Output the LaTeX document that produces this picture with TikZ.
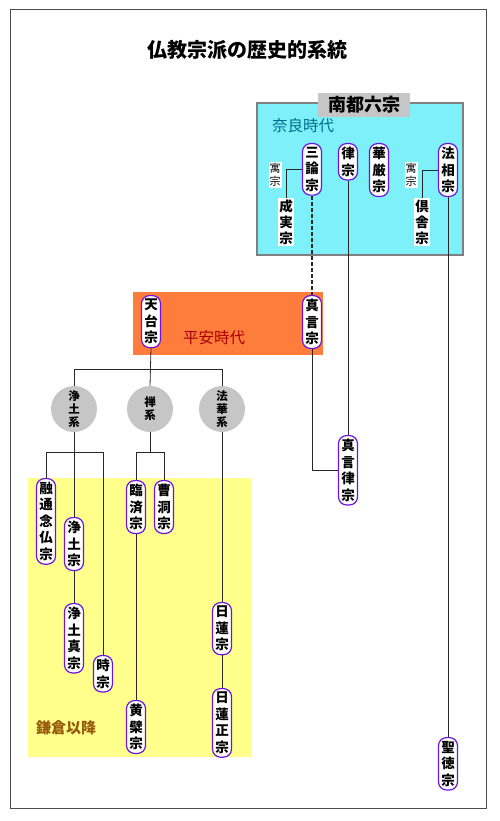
\documentclass[tikz,border=0pt]{standalone}
\usepackage{fontspec}
\setmainfont{Noto Sans CJK JP}
\definecolor{naracyan}{RGB}{125,240,250}
\definecolor{naratext}{RGB}{0,110,140}
\definecolor{heianor}{RGB}{255,125,60}
\definecolor{heiantext}{RGB}{170,0,0}
\definecolor{kamayel}{RGB}{255,255,140}
\definecolor{kamatext}{RGB}{150,90,10}
\definecolor{pillc}{RGB}{110,20,220}
\definecolor{linec}{RGB}{40,40,40}
\tikzset{
  pill/.style={draw=pillc, line width=1.2pt, fill=white, rounded corners=8pt,
    inner xsep=2pt, inner ysep=3.5pt, minimum width=19pt, align=center,
    font=\bfseries\fontsize{13.5}{16.5}\selectfont, anchor=north},
  plain/.style={fill=white, inner sep=1.5pt, align=center,
    font=\bfseries\fontsize{13.5}{16}\selectfont, anchor=north},
  small/.style={fill=white, inner sep=1pt, align=center,
    font=\fontsize{11}{13}\selectfont},
  kei/.style={circle, fill=gray!45, minimum size=46pt, inner sep=0pt, align=center,
    font=\bfseries\fontsize{11.5}{13}\selectfont},
  conn/.style={draw=linec, line width=0.8pt},
}
\begin{document}
\begin{tikzpicture}[x=1pt,y=-1pt]
\useasboundingbox (0,0) rectangle (500,821);
% frame
\draw[line width=1pt, draw=black!70] (10,10) rectangle (486,808);
\node[font=\bfseries\fontsize{20}{24}\selectfont] (title) at (247,50) {仏教宗派の歴史的系統};
% period boxes
\fill[kamayel] (28,478) rectangle (252,757);
\filldraw[fill=naracyan, draw=gray, line width=1.5pt] (257,103) rectangle (463,255);
\fill[heianor] (133,292) rectangle (323,355);
\node[fill=gray!45, minimum width=92pt, minimum height=24pt, inner sep=0pt,
  font=\bfseries\fontsize{18}{20}\selectfont] (nanto) at (364,105) {南都六宗};
\node[text=naratext, font=\fontsize{15.5}{18}\selectfont] (nara) at (303,126) {奈良時代};
\node[text=heiantext, font=\fontsize{15.5}{18}\selectfont] (heian) at (214,338) {平安時代};
\node[text=kamatext, font=\bfseries\fontsize{15}{18}\selectfont] (kama) at (66,728) {鎌倉以降};
% Nara sects
\node[pill] (sanron) at (312,143) {三\\論\\宗};
\node[pill] (ritsu) at (348,143) {律\\宗};
\node[pill] (kegon) at (379,143) {華\\厳\\宗};
\node[pill] (hosso) at (448,143) {法\\相\\宗};
\node[plain] (jojitsu) at (286,198) {成\\実\\宗};
\node[plain] (kusha) at (422,198) {倶\\舎\\宗};
\node[small] (guu1) at (275,175) {寓\\宗};
\node[small] (guu2) at (411,175) {寓\\宗};
% Heian sects
\node[pill] (tendai) at (151,295) {天\\台\\宗};
\node[pill] (shingon) at (312,295) {真\\言\\宗};
% lineages
\node[kei] (jodokei) at (74,409) {浄\\土\\系};
\node[kei] (zenkei) at (150,409) {禅\\系};
\node[kei] (hokkekei) at (222,409) {法\\華\\系};
% Kamakura sects
\node[pill] (yuzu) at (46,478) {融\\通\\念\\仏\\宗};
\node[pill] (jodo) at (74,517) {浄\\土\\宗};
\node[pill] (jodoshin) at (74,603) {浄\\土\\真\\宗};
\node[pill] (ji) at (103,655) {時\\宗};
\node[pill] (rinzai) at (136,480) {臨\\済\\宗};
\node[pill] (soto) at (164,480) {曹\\洞\\宗};
\node[pill] (obaku) at (136,700) {黄\\檗\\宗};
\node[pill] (nichiren) at (222,602) {日\\蓮\\宗};
\node[pill] (nichirensho) at (222,688) {日\\蓮\\正\\宗};
\node[pill] (shingonritsu) at (348,435) {真\\言\\律\\宗};
\node[pill] (shotoku) at (448,737) {聖\\徳\\宗};
% bar coordinates
\coordinate (bar1) at (150,369);
\coordinate (bar2) at (150,452);
% connectors
\draw[conn] (sanron.west) -| (jojitsu.north);
\draw[conn] (hosso.west) -| (kusha.north);
\draw[conn, dashed, dash pattern=on 4pt off 2pt, line width=1.2pt] (sanron.south) -- (shingon.north);
\draw[conn] (ritsu.south) -- (shingonritsu.north);
\draw[conn] (hosso.south) -- (shotoku.north);
\draw[conn] (shingon.south) |- (shingonritsu.west);
\draw[conn] (tendai.south) -- (zenkei.north);
\draw[conn] (jodokei.north) -- (jodokei.north |- bar1) -- (hokkekei.north |- bar1) -- (hokkekei.north);
\draw[conn] (jodokei.south) -- (jodo.north);
\draw[conn] (yuzu.north) -- (yuzu.north |- bar2) -- (ji.north |- bar2) -- (ji.north);
\draw[conn] (jodo.south) -- (jodoshin.north);
\draw[conn] (zenkei.south) -- (zenkei.south |- bar2);
\draw[conn] (rinzai.north) -- (rinzai.north |- bar2) -- (soto.north |- bar2) -- (soto.north);
\draw[conn] (rinzai.south) -- (obaku.north);
\draw[conn] (hokkekei.south) -- (nichiren.north);
\draw[conn] (nichiren.south) -- (nichirensho.north);
\end{tikzpicture}
\end{document}
